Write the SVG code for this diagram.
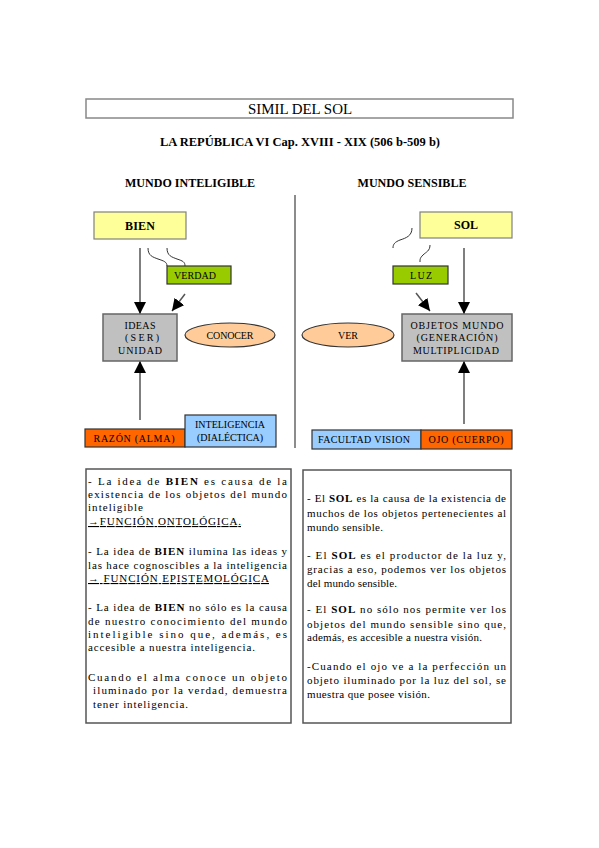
<svg xmlns="http://www.w3.org/2000/svg" width="599" height="848" viewBox="0 0 599 848">
<style>
  text { font-family: 'Liberation Serif', 'DejaVu Serif', 'Times New Roman', serif; fill: #000; }
  .h { font-weight: bold; font-size: 12px; }
  .n { font-size: 10px; text-anchor: middle; }
  .nb { font-size: 12px; font-weight: bold; text-anchor: middle; }
  .p { font-size: 11px; }
  .yel { fill: #ffff99; stroke: #808080; stroke-width: 1.2; }
  .grn { fill: #99cc00; stroke: #333333; stroke-width: 1.2; }
  .gry { fill: #c0c0c0; stroke: #666666; stroke-width: 1.5; }
  .ora { fill: #ff6600; stroke: #333333; stroke-width: 1.2; }
  .blu { fill: #99ccff; stroke: #333333; stroke-width: 1.2; }
  .ell { fill: #ffcc99; stroke: #333333; stroke-width: 1.2; }
  .box { fill: #ffffff; stroke: #555555; stroke-width: 1.5; }
  .ln { stroke: #555555; stroke-width: 1.5; fill: none; }
  .wv { stroke: #333333; stroke-width: 1; fill: none; }
</style>
<defs>
  <marker id="ah" markerUnits="userSpaceOnUse" markerWidth="12" markerHeight="12" viewBox="0 0 12 12" refX="12" refY="6" orient="auto">
    <path d="M0,0 L12,6 L0,12 Z" fill="#000"/>
  </marker>
</defs>
<rect width="599" height="848" fill="#ffffff"/>

<g id="title">
  <rect x="86" y="99" width="427" height="19" fill="#fff" stroke="#888" stroke-width="1.5"/>
  <text x="300" y="114" font-size="14" text-anchor="middle" textLength="104" lengthAdjust="spacingAndGlyphs">SIMIL DEL SOL</text>
  <text class="h" x="300" y="146" text-anchor="middle" textLength="280" lengthAdjust="spacingAndGlyphs">LA REPÚBLICA VI Cap. XVIII - XIX (506 b-509 b)</text>
  <text class="h" x="190" y="187" text-anchor="middle" textLength="130" lengthAdjust="spacingAndGlyphs">MUNDO INTELIGIBLE</text>
  <text class="h" x="412" y="187" text-anchor="middle" textLength="109" lengthAdjust="spacingAndGlyphs">MUNDO SENSIBLE</text>
</g>

<g id="connectors">
  <line x1="295" y1="195" x2="295" y2="448" stroke="#666" stroke-width="1.5"/>
  <line class="ln" x1="140" y1="248" x2="140" y2="314" marker-end="url(#ah)"/>
  <line class="ln" x1="185" y1="294" x2="172" y2="311" marker-end="url(#ah)"/>
  <line class="ln" x1="140" y1="420" x2="140" y2="361" marker-end="url(#ah)"/>
  <path class="wv" d="M148,248 C148,256 153,257 158,259 C164,261 167,262 167,266"/>
  <path class="wv" d="M167,248 C167,256 172,257 177,259 C183,261 185,262 185,266"/>
  <line class="ln" x1="464" y1="248" x2="464" y2="314" marker-end="url(#ah)"/>
  <line class="ln" x1="416" y1="293" x2="430" y2="311" marker-end="url(#ah)"/>
  <line class="ln" x1="464" y1="424" x2="464" y2="361" marker-end="url(#ah)"/>
  <path class="wv" d="M412,228 C412,236 406,238 400,240 C395,242 393,244 393,248"/>
  <path class="wv" d="M430,245 C430,251 426,252 423,255 C420,258 420,259 420,262"/>
</g>

<g id="bien">
  <rect class="yel" x="94" y="212" width="92" height="27"/>
  <text class="nb" x="140" y="230" textLength="30" lengthAdjust="spacing">BIEN</text>
</g>
<g id="verdad">
  <rect class="grn" x="167" y="266" width="64" height="18"/>
  <text class="n" x="195" y="279" textLength="42" lengthAdjust="spacing">VERDAD</text>
</g>
<g id="ideas">
  <rect class="gry" x="103" y="314" width="74" height="47"/>
  <text class="n" x="140" y="329" textLength="31" lengthAdjust="spacing">IDEAS</text>
  <text class="n" x="142" y="341" textLength="34" lengthAdjust="spacing">(SER)</text>
  <text class="n" x="140" y="354" textLength="44" lengthAdjust="spacing">UNIDAD</text>
</g>
<g id="conocer">
  <ellipse class="ell" cx="230" cy="335" rx="45" ry="12"/>
  <text class="n" x="230" y="339" textLength="47" lengthAdjust="spacing">CONOCER</text>
</g>
<g id="razon">
  <rect class="ora" x="85" y="429" width="100" height="18"/>
  <text class="n" x="134" y="442" textLength="81" lengthAdjust="spacing">RAZÓN (ALMA)</text>
</g>
<g id="inteligencia">
  <rect class="blu" x="185" y="415" width="91" height="32"/>
  <text class="n" x="230" y="428" textLength="70" lengthAdjust="spacing">INTELIGENCIA</text>
  <text class="n" x="230" y="441" textLength="66" lengthAdjust="spacing">(DIALÉCTICA)</text>
</g>

<g id="sol">
  <rect class="yel" x="420" y="212" width="92" height="26"/>
  <text class="nb" x="466" y="229" textLength="24" lengthAdjust="spacing">SOL</text>
</g>
<g id="luz">
  <rect class="grn" x="393" y="266" width="55" height="18"/>
  <text class="n" x="421" y="279" textLength="22" lengthAdjust="spacing">LUZ</text>
</g>
<g id="objetos">
  <rect class="gry" x="402" y="314" width="110" height="47"/>
  <text class="n" x="457" y="329" textLength="93" lengthAdjust="spacing">OBJETOS MUNDO</text>
  <text class="n" x="457" y="341" textLength="81" lengthAdjust="spacing">(GENERACIÓN)</text>
  <text class="n" x="456" y="354" textLength="86" lengthAdjust="spacing">MULTIPLICIDAD</text>
</g>
<g id="ver">
  <ellipse class="ell" cx="348" cy="335" rx="46" ry="12"/>
  <text class="n" x="348" y="339" textLength="20" lengthAdjust="spacing">VER</text>
</g>
<g id="facultad">
  <rect class="blu" x="312" y="430" width="109" height="19"/>
  <text class="n" x="364" y="443" textLength="92" lengthAdjust="spacing">FACULTAD VISION</text>
</g>
<g id="ojo">
  <rect class="ora" x="421" y="430" width="91" height="19"/>
  <text class="n" x="466" y="443" textLength="75" lengthAdjust="spacing">OJO (CUERPO)</text>
</g>

<g id="texto-inteligible">
  <rect class="box" x="86" y="469" width="205" height="254"/>
  <text class="p" x="88" y="485" textLength="199" lengthAdjust="spacing">- La idea de <tspan font-weight="bold">BIEN</tspan> es causa de la</text>
  <text class="p" x="88" y="498" textLength="199" lengthAdjust="spacing">existencia de los objetos del mundo</text>
  <text class="p" x="88" y="511" textLength="55" lengthAdjust="spacing">inteligible</text>
  <text class="p" x="88" y="525" text-decoration="underline" textLength="153" lengthAdjust="spacing">→FUNCIÓN ONTOLÓGICA.</text>
  <text class="p" x="88" y="555" textLength="199" lengthAdjust="spacing">- La idea de <tspan font-weight="bold">BIEN</tspan> ilumina las ideas y</text>
  <text class="p" x="88" y="569" textLength="199" lengthAdjust="spacing">las hace cognoscibles a la inteligencia</text>
  <text class="p" x="88" y="582" text-decoration="underline" textLength="181" lengthAdjust="spacing">→ FUNCIÓN EPISTEMOLÓGICA</text>
  <text class="p" x="88" y="611" textLength="199" lengthAdjust="spacing">- La idea de <tspan font-weight="bold">BIEN</tspan> no sólo es la causa</text>
  <text class="p" x="88" y="625" textLength="199" lengthAdjust="spacing">de nuestro conocimiento del mundo</text>
  <text class="p" x="88" y="638" textLength="199" lengthAdjust="spacing">inteligible sino que, además, es</text>
  <text class="p" x="88" y="651" textLength="167" lengthAdjust="spacing">accesible a nuestra inteligencia.</text>
  <text class="p" x="88" y="681" textLength="199" lengthAdjust="spacing">Cuando el alma conoce un objeto</text>
  <text class="p" x="93" y="694" textLength="194" lengthAdjust="spacing">iluminado por la verdad, demuestra</text>
  <text class="p" x="93" y="708" textLength="95" lengthAdjust="spacing">tener inteligencia.</text>
</g>

<g id="texto-sensible">
  <rect class="box" x="303" y="470" width="208" height="253"/>
  <text class="p" x="307" y="502" textLength="199" lengthAdjust="spacing">- El <tspan font-weight="bold">SOL</tspan> es la causa de la existencia de</text>
  <text class="p" x="307" y="517" textLength="199" lengthAdjust="spacing">muchos de los objetos pertenecientes al</text>
  <text class="p" x="307" y="531" textLength="76" lengthAdjust="spacing">mundo sensible.</text>
  <text class="p" x="307" y="559" textLength="199" lengthAdjust="spacing">- El <tspan font-weight="bold">SOL</tspan> es el productor de la luz y,</text>
  <text class="p" x="307" y="573" textLength="199" lengthAdjust="spacing">gracias a eso, podemos ver los objetos</text>
  <text class="p" x="307" y="587" textLength="90" lengthAdjust="spacing">del mundo sensible.</text>
  <text class="p" x="307" y="613" textLength="199" lengthAdjust="spacing">- El <tspan font-weight="bold">SOL</tspan> no sólo nos permite ver los</text>
  <text class="p" x="307" y="628" textLength="199" lengthAdjust="spacing">objetos del mundo sensible sino que,</text>
  <text class="p" x="307" y="641" textLength="175" lengthAdjust="spacing">además, es accesible a nuestra visión.</text>
  <text class="p" x="307" y="670" textLength="199" lengthAdjust="spacing">-Cuando el ojo ve a la perfección un</text>
  <text class="p" x="307" y="684" textLength="199" lengthAdjust="spacing">objeto iluminado por la luz del sol, se</text>
  <text class="p" x="307" y="698" textLength="123" lengthAdjust="spacing">muestra que posee visión.</text>
</g>
</svg>
